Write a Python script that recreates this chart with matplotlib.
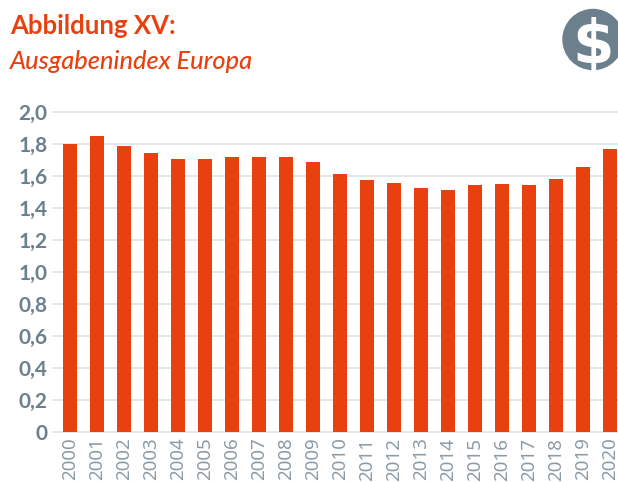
#!/usr/bin/env python
"""Abbildung XV: Ausgabenindex Europa, bar chart."""
import matplotlib
matplotlib.use("Agg")
import matplotlib.pyplot as plt
from matplotlib.patches import Circle

years = [str(y) for y in range(2000, 2021)]
values = [1.80, 1.85, 1.79, 1.745, 1.705, 1.705, 1.72, 1.72, 1.72, 1.69, 1.61,
          1.575, 1.555, 1.525, 1.51, 1.545, 1.55, 1.545, 1.58, 1.655, 1.77]
y_ticks = [0, 0.2, 0.4, 0.6, 0.8, 1.0, 1.2, 1.4, 1.6, 1.8, 2.0]
y_labels = ["0", "0,2", "0,4", "0,6", "0,8", "1,0", "1,2", "1,4", "1,6", "1,8", "2,0"]

ORANGE = "#e8410f"
GREY = "#6b7f8c"
GRID = "#e2e7ec"
W, H = 618, 482

plt.rcParams["font.family"] = ["Lato", "DejaVu Sans"]

fig = plt.figure(figsize=(W / 100, H / 100), dpi=100)
ax = fig.add_axes([53 / W, 1 - 432 / H, (W - 53) / W, 320 / H])

ax.bar(range(len(years)), values, width=0.52, color=ORANGE, zorder=3)
ax.set_xlim(-0.63, 20.3)
ax.set_ylim(0, 2.0)

ax.set_yticks(y_ticks, y_labels, fontsize=15, fontweight="bold", color=GREY)
ax.set_xticks(range(len(years)), years, rotation=90, fontsize=13.5,
              family="Noto Sans", color="#8b9ba6")
ax.tick_params(axis="both", length=0)
ax.tick_params(axis="y", pad=4)
ax.tick_params(axis="x", pad=4)

ax.grid(axis="y", color=GRID, linewidth=1.4, zorder=0)
ax.set_axisbelow(True)
for s in ax.spines.values():
    s.set_visible(False)
for line in ax.get_ygridlines():
    line.set_clip_on(False)

fig.text(10 / W, 1 - 34 / H, "Abbildung XV:", fontsize=18.5, fontweight="bold",
         color=ORANGE, va="baseline")
fig.text(10 / W, 1 - 69 / H, "Ausgabenindex Europa", fontsize=18.3, style="italic",
         fontweight="medium", color=ORANGE, va="baseline")

# dollar icon, overlay in pixel coordinates
over = fig.add_axes([0, 0, 1, 1], facecolor="none")
over.set_xlim(0, W)
over.set_ylim(H, 0)
over.axis("off")
over.add_patch(Circle((593, 39.5), 30, color=GREY))
over.text(593, 40, "$", fontsize=43, family="DejaVu Sans", fontweight="bold",
          color="white", ha="center", va="center_baseline")

fig.savefig("out.png", dpi=100)
